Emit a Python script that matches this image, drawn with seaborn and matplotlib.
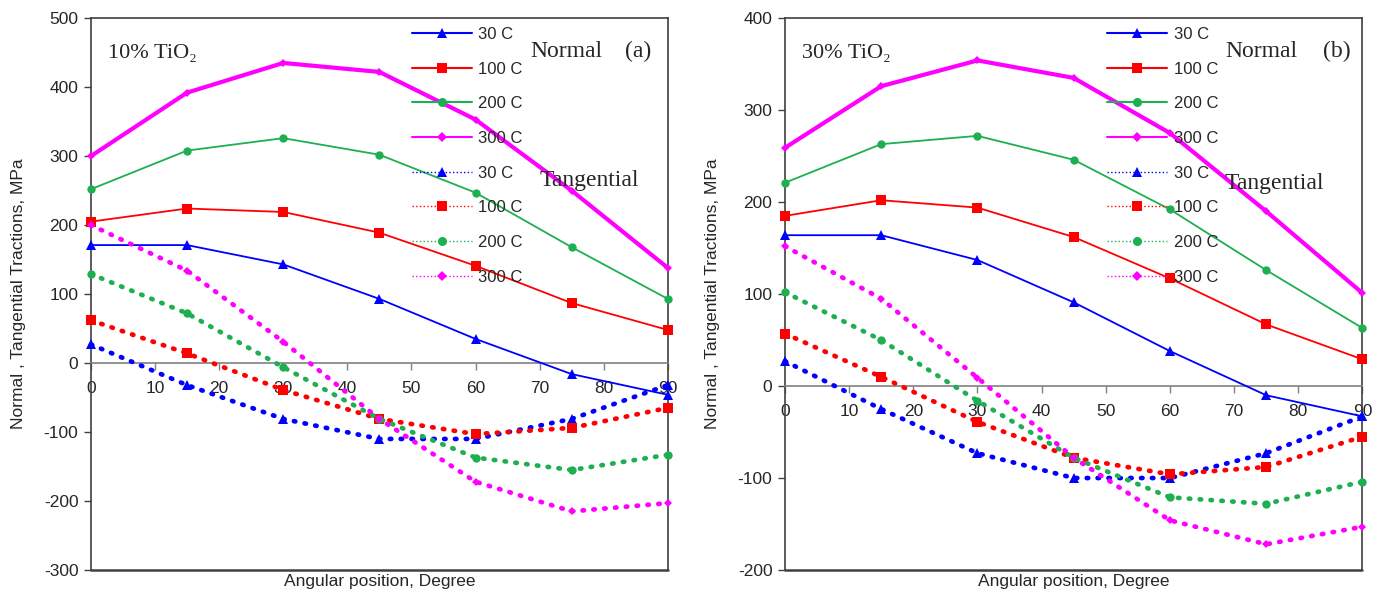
import numpy as np
import pandas as pd
import matplotlib
matplotlib.use("Agg")
import matplotlib.pyplot as plt
from matplotlib.lines import Line2D
import seaborn as sns

sns.set_theme(style="white")
plt.rcParams["font.family"] = ["Liberation Sans", "DejaVu Sans"]
plt.rcParams["axes.unicode_minus"] = False

# Data
angle = [0, 15, 30, 45, 60, 75, 90]
temps = ["30 C", "100 C", "200 C", "300 C"]

# panel (a): 10% TiO2
a_normal = [
    [171, 171, 143, 93, 35, -16, -46],
    [205, 224, 219, 189, 141, 87, 48],
    [252, 308, 326, 302, 247, 168, 93],
    [300, 392, 435, 422, 353, 250, 138],
]
a_tangential = [
    [27, -32, -81, -110, -110, -81, -32],
    [62, 14, -39, -81, -103, -94, -65],
    [129, 72, -6, -81, -137, -155, -133],
    [200, 134, 31, -81, -172, -215, -203],
]

# panel (b): 30% TiO2
b_normal = [
    [164, 164, 137, 91, 38, -10, -33],
    [185, 202, 194, 162, 117, 67, 29],
    [221, 263, 272, 246, 192, 126, 63],
    [259, 326, 354, 335, 275, 190, 101],
]
b_tangential = [
    [27, -25, -73, -100, -100, -73, -33],
    [57, 10, -39, -78, -96, -88, -55],
    [102, 50, -16, -78, -121, -128, -104],
    [152, 95, 9, -78, -146, -172, -153],
]

colors = ["#0000FF", "#FF0000", "#1DAF50", "#FF00FF"]
markers = ["^", "s", "o", "D"]
msizes = [7, 7, 6, 4.5]
normal_lw = [1.3, 1.3, 1.3, 3.0]
frame_color = "#404040"
dots = (0, (0.3, 2.0))


def draw_panel(ax, normal, tangential, ylim, title, tag, leg_x, tag_x):
    for i, t in enumerate(temps):
        sns.lineplot(x=angle, y=normal[i], ax=ax, color=colors[i], lw=normal_lw[i],
                     marker=markers[i], markersize=msizes[i], markeredgewidth=0,
                     zorder=3, clip_on=False)
    for i, t in enumerate(temps):
        sns.lineplot(x=angle, y=tangential[i], ax=ax, color=colors[i], lw=3.4,
                     linestyle=dots, dash_capstyle="round",
                     marker=markers[i], markersize=msizes[i], markeredgewidth=0,
                     zorder=3, clip_on=False)

    ax.set_xlim(0, 90)
    ax.set_ylim(*ylim)
    ax.set_xticks(np.arange(0, 91, 10))
    ax.set_yticks(np.arange(ylim[0], ylim[1] + 1, 100))

    # x axis sits on the zero line, frame kept all round
    ax.spines["bottom"].set_position(("data", 0))
    ax.spines["bottom"].set_color("#808080")
    ax.spines["bottom"].set_linewidth(1.2)
    for s in ["left", "right", "top"]:
        ax.spines[s].set_color(frame_color)
        ax.spines[s].set_linewidth(1.2)
    ax.axhline(ylim[0], color=frame_color, lw=1.8, clip_on=False, zorder=4)

    ax.tick_params(axis="x", direction="out", length=5, width=1, color="#808080",
                   labelsize=12.5, pad=8, bottom=True)
    ax.tick_params(axis="y", direction="out", length=5, width=1, color=frame_color,
                   labelsize=12.5, left=True, pad=4)

    ax.set_xlabel("Angular position, Degree", fontsize=12.5)
    ax.xaxis.set_label_coords(0.5, -0.008)
    ax.set_ylabel("Normal , Tangential Tractions, MPa", fontsize=12.5)
    ax.yaxis.set_label_coords(-0.112, 0.5)

    handles = []
    labels = []
    for i, t in enumerate(temps):
        handles.append(Line2D([], [], color=colors[i], lw=1.5, marker=markers[i],
                              markersize=msizes[i] + 0.5, markeredgewidth=0))
        labels.append(t)
    for i, t in enumerate(temps):
        handles.append(Line2D([], [], color=colors[i], lw=1.0, linestyle=":",
                              marker=markers[i], markersize=msizes[i] + 0.5,
                              markeredgewidth=0))
        labels.append(t)
    ax.legend(handles, labels, loc="upper left", bbox_to_anchor=(leg_x, 0.984),
              frameon=False, fontsize=12, handlelength=3.6, handletextpad=0.4,
              labelspacing=1.18, borderpad=0, borderaxespad=0)

    serif = ["Liberation Serif", "DejaVu Serif"]
    ax.text(0.03, 0.935, title, transform=ax.transAxes, fontsize=16,
            family=serif, va="center", ha="left")
    ax.text(0.762, 0.94, "Normal", transform=ax.transAxes, fontsize=17,
            family=serif, va="center", ha="left")
    ax.text(tag_x, 0.94, tag, transform=ax.transAxes, fontsize=17,
            family=serif, va="center", ha="right")


fig = plt.figure(figsize=(13.8, 5.96), dpi=100)
ax1 = fig.add_axes([0.0659, 0.0436, 0.418, 0.926])
ax2 = fig.add_axes([0.5688, 0.0436, 0.4185, 0.926])

draw_panel(ax1, a_normal, a_tangential, (-300, 500), "10% TiO\u2082", "(a)", 0.556, 0.972)
draw_panel(ax2, b_normal, b_tangential, (-200, 400), "30% TiO\u2082", "(b)", 0.558, 0.979)

serif = ["Liberation Serif", "DejaVu Serif"]
ax1.text(0.778, 0.705, "Tangential", transform=ax1.transAxes, fontsize=17,
         family=serif, va="center", ha="left")
ax2.text(0.762, 0.70, "Tangential", transform=ax2.transAxes, fontsize=17,
         family=serif, va="center", ha="left")

fig.savefig("out.png", dpi=100)
